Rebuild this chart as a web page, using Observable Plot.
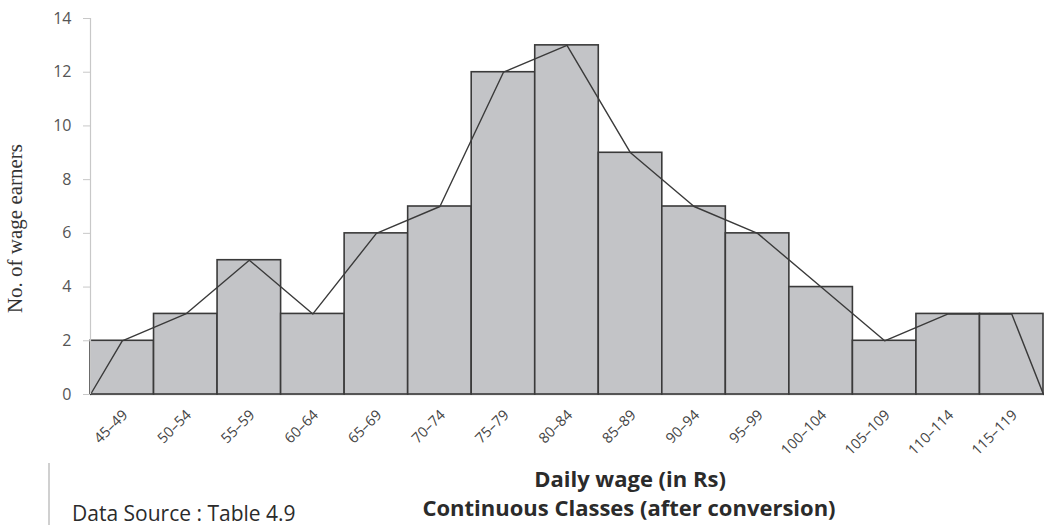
<!DOCTYPE html>
<html>
<head>
<meta charset="utf-8">
<script src="https://cdn.jsdelivr.net/npm/d3@7"></script>
<script src="https://cdn.jsdelivr.net/npm/@observablehq/plot@0.6"></script>
<style>
  html, body { margin: 0; padding: 0; background: #fff; }
  #wrap { position: relative; width: 1044px; height: 525px; overflow: hidden; font-family: "Open Sans", Lato, sans-serif; }
  #chart svg { display: block; }
  g[aria-label="y-axis tick"] path { stroke: #c8c8c8; }
  .cap { position: absolute; white-space: nowrap; line-height: 1; color: #2b2b2b; }
  .bold { font-weight: 700; }
  #ylabel { position: absolute; left: -135px; top: 217.5px; width: 300px; height: 21px; line-height: 21px; text-align: center;
            font-family: "Liberation Serif", "Times New Roman", serif; font-size: 21px; color: #333; transform: rotate(-90deg); white-space: nowrap; }
  #vline { position: absolute; left: 48px; top: 463px; width: 0; height: 62px; border-left: 2px solid #d0d0d0; }
</style>
</head>
<body>
<div id="wrap">
  <div id="chart"></div>
  <div id="ylabel">No. of wage earners</div>
  <div id="vline"></div>
  <div class="cap bold" id="xl1" style="font-size:22px; top:466.5px; left:0; width:1260px; text-align:center;">Daily wage (in Rs)</div>
  <div class="cap bold" id="xl2" style="font-size:22px; top:495.5px; left:0; width:1258px; text-align:center;">Continuous Classes (after conversion)</div>
  <div class="cap" id="src" style="font-size:21px; top:502.5px; left:72px;">Data Source : Table 4.9</div>
</div>
<script>
// Class labels (daily wage in Rs)
const classes = ["45–49","50–54","55–59","60–64","65–69","70–74","75–79","80–84","85–89","90–94","95–99","100–104","105–109","110–114","115–119"];
// Continuous class limits after conversion
const lowerLimits = [44.5,49.5,54.5,59.5,64.5,69.5,74.5,79.5,84.5,89.5,94.5,99.5,104.5,109.5,114.5];
const upperLimits = [49.5,54.5,59.5,64.5,69.5,74.5,79.5,84.5,89.5,94.5,99.5,104.5,109.5,114.5,119.5];
// Number of wage earners
const earners = [2,3,5,3,6,7,12,13,9,7,6,4,2,3,3];
const yTicks = [0,2,4,6,8,10,12,14];

const bars = classes.map((c, i) => ({cls: c, x1: lowerLimits[i], x2: upperLimits[i], n: earners[i], mid: (lowerLimits[i] + upperLimits[i]) / 2}));
const mids = bars.map(d => d.mid);
const polygon = [
  {x: lowerLimits[0], y: 0},
  ...bars.map(d => ({x: d.mid, y: d.n})),
  {x: upperLimits[upperLimits.length - 1], y: 0}
];

const plot = Plot.plot({
  width: 1044,
  height: 463,
  marginTop: 18,
  marginBottom: 69,
  marginLeft: 90,
  marginRight: 1,
  style: {fontFamily: "'Open Sans', Lato, sans-serif", background: "#fff"},
  x: {type: "linear", domain: [lowerLimits[0], upperLimits[upperLimits.length - 1]]},
  y: {domain: [0, 14]},
  marks: [
    Plot.ruleY([0], {stroke: "#c0c0c0", strokeWidth: 1.5}),
    Plot.rectY(bars, {x1: "x1", x2: "x2", y1: 0, y2: "n", fill: "#c3c4c7", stroke: "#3a3a3a", strokeWidth: 1.6}),
    Plot.line(polygon, {x: "x", y: "y", stroke: "#3a3a3a", strokeWidth: 1.4}),
    Plot.ruleX([lowerLimits[0]], {stroke: "#c8c8c8", strokeWidth: 1.2}),
    Plot.axisY({ticks: yTicks, tickSize: 7, tickPadding: 12, fontSize: 16, fill: "#555", label: null}),
    Plot.axisX(mids, {tickFormat: (d, i) => classes[i], tickRotate: -45, tickSize: 0, tickPadding: 18, dx: 3, fontSize: 14.5, fill: "#444", label: null})
  ]
});
document.getElementById("chart").appendChild(plot);
</script>
</body>
</html>
